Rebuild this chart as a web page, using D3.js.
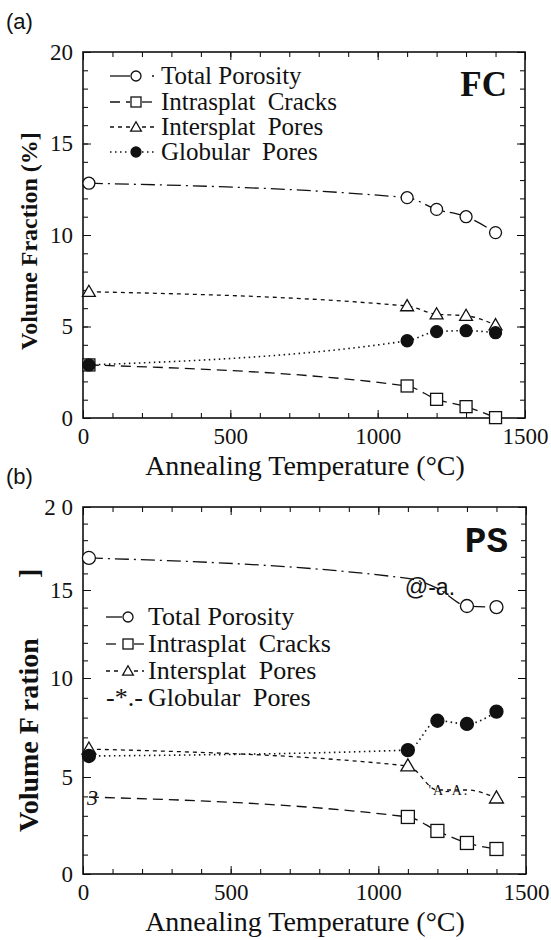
<!DOCTYPE html>
<html>
<head>
<meta charset="utf-8">
<script src="https://cdn.jsdelivr.net/npm/d3@7/dist/d3.min.js"></script>
<style>
  body { margin: 0; background: #fff; }
</style>
</head>
<body>
<div id="chart"></div>
<script>
// values
const temps = [20, 1100, 1200, 1300, 1400];
const seriesNames = ["Total Porosity", "Intrasplat Cracks", "Intersplat Pores", "Globular Pores"];

const fcTotal = [12.83, 12.04, 11.4, 11.0, 10.13];
const fcIntra = [2.9, 1.75, 1.02, 0.62, 0.02];
const fcInter = [6.9, 6.12, 5.67, 5.59, 5.08];
const fcGlob = [2.9, 4.22, 4.72, 4.77, 4.66];

const psTotal = [16.93, 15.7, 15.1, 14.09, 14.03];
const psIntra = [3.97, 2.94, 2.22, 1.6, 1.29];
const psInter = [6.41, 5.56, 4.33, 4.33, 3.92];
const psGlob = [6.06, 6.36, 7.84, 7.68, 8.3];

const xTicks = [0, 500, 1000, 1500];
const yTicks = [0, 5, 10, 15, 20];

const SERIF = "'Liberation Serif'";
const SANS = "'Liberation Sans'";
const MONO = "'Liberation Mono'";

// line / marker style per series (same order as seriesNames)
const styles = [
  { dash: "14,5,2,5", marker: "circle" },
  { dash: "10,6", marker: "square" },
  { dash: "4,4", marker: "triangle" },
  { dash: "1.5,3.5", marker: "dot" },
];

const svg = d3
  .select("#chart")
  .append("svg")
  .attr("width", 551)
  .attr("height", 940);

svg.append("rect").attr("width", 551).attr("height", 940).attr("fill", "#fff");

function drawMarker(g, type, cx, cy, s) {
  if (type === "circle" || type === "dot") {
    g.append("circle")
      .attr("cx", cx).attr("cy", cy).attr("r", s / 2)
      .attr("fill", type === "dot" ? "#111" : "#fff")
      .attr("stroke", "#111").attr("stroke-width", 1.3);
  } else if (type === "square") {
    g.append("rect")
      .attr("x", cx - s / 2).attr("y", cy - s / 2)
      .attr("width", s).attr("height", s)
      .attr("fill", "#fff").attr("stroke", "#111").attr("stroke-width", 1.3);
  } else {
    g.append("path")
      .attr("transform", `translate(${cx},${cy + 1})`)
      .attr("d", d3.symbol(d3.symbolTriangle, s * s * 0.5)())
      .attr("fill", "#fff").attr("stroke", "#111").attr("stroke-width", 1.3);
  }
}

function drawPanel(p) {
  const g = svg.append("g");
  const x = d3.scaleLinear().domain([0, 1500]).range([p.left, p.right]);
  // the scanned (b) axis is slightly stretched, so y can be piecewise
  const y = d3.scaleLinear().domain(yTicks).range(p.yRange);

  const noDomain = (sel) => sel.select(".domain").remove();
  const tickStyle = (sel) => {
    sel.attr("font-family", null).attr("font-size", null);
    sel.selectAll("text").style("font-family", SERIF).style("font-size", "23px").attr("fill", "#111");
    sel.selectAll("line").attr("stroke", "#111");
  };

  // minor ticks, all pointing inward
  g.append("g").attr("transform", `translate(0,${p.bottom})`)
    .call(d3.axisBottom(x).tickValues(d3.range(0, 1501, 100)).tickSize(-5).tickFormat(""))
    .call(noDomain);
  g.append("g").attr("transform", `translate(0,${p.top})`)
    .call(d3.axisTop(x).tickValues(d3.range(0, 1501, 100)).tickSize(-5).tickFormat(""))
    .call(noDomain);
  g.append("g").attr("transform", `translate(${p.left},0)`)
    .call(d3.axisLeft(y).tickValues(d3.range(0, 21, 1)).tickSize(-5).tickFormat(""))
    .call(noDomain);
  g.append("g").attr("transform", `translate(${p.right},0)`)
    .call(d3.axisRight(y).tickValues(d3.range(0, 21, 1)).tickSize(-5).tickFormat(""))
    .call(noDomain);

  // major ticks with labels
  g.append("g").attr("transform", `translate(0,${p.bottom})`)
    .call(d3.axisBottom(x).tickValues(xTicks).tickSize(-8).tickPadding(10).tickFormat((d) => d))
    .call(noDomain).call(tickStyle);
  g.append("g").attr("transform", `translate(0,${p.top})`)
    .call(d3.axisTop(x).tickValues(xTicks).tickSize(-8).tickFormat(""))
    .call(noDomain);
  g.append("g").attr("transform", `translate(${p.left},0)`)
    .call(d3.axisLeft(y).tickValues(yTicks).tickSize(-8).tickPadding(10).tickFormat(p.yFormat))
    .call(noDomain).call(tickStyle);
  g.append("g").attr("transform", `translate(${p.right},0)`)
    .call(d3.axisRight(y).tickValues(yTicks).tickSize(-8).tickFormat(""))
    .call(noDomain);

  // frame
  g.append("rect")
    .attr("x", p.left).attr("y", p.top)
    .attr("width", p.right - p.left).attr("height", p.bottom - p.top)
    .attr("fill", "none").attr("stroke", "#111").attr("stroke-width", 1.6);

  // lines
  const line = d3.line()
    .x((d, i) => x(temps[i]))
    .y((d) => y(d))
    .curve(d3.curveMonotoneX);

  p.series.forEach((vals, k) => {
    g.append("path")
      .datum(vals)
      .attr("fill", "none")
      .attr("stroke", "#111")
      .attr("stroke-width", k === 3 ? 1.6 : 1.3)
      .attr("stroke-dasharray", styles[k].dash)
      .attr("d", line);
  });

  // markers
  p.series.forEach((vals, k) => {
    vals.forEach((v, i) => {
      if (p.hidden[k].includes(i)) return;
      drawMarker(g, styles[k].marker, x(temps[i]), y(v), p.markerSize);
    });
  });

  // legend
  p.legendRows.forEach((base, k) => {
    const cy = base - 8;
    if (p.legendText[k]) {
      g.append("text").attr("x", p.legendX0).attr("y", base)
        .attr("fill", "#111")
        .style("font-family", SERIF).style("font-size", p.legendSize + "px")
        .text(p.legendText[k]);
    } else {
      g.append("line")
        .attr("x1", p.legendX0).attr("x2", p.legendMark - 6)
        .attr("y1", cy).attr("y2", cy)
        .attr("stroke", "#111").attr("stroke-width", k === 3 ? 1.6 : 1.3)
        .attr("stroke-dasharray", k === 0 ? null : styles[k].dash);
      g.append("line")
        .attr("x1", p.legendMark + 6).attr("x2", p.legendText0 - 4)
        .attr("y1", cy).attr("y2", cy)
        .attr("stroke", "#111").attr("stroke-width", k === 3 ? 1.6 : 1.3)
        .attr("stroke-dasharray", k === 0 ? "0,10,2,20" : styles[k].dash);
      drawMarker(g, styles[k].marker, p.legendMark, cy, p.legendMarkSize);
    }
    g.append("text").attr("x", p.legendText0).attr("y", base)
      .attr("fill", "#111")
      .style("font-family", SERIF).style("font-size", p.legendSize + "px")
      .style("word-spacing", k === 0 ? null : "6px")
      .text(seriesNames[k]);
  });

  // panel tag
  g.append("text")
    .attr("x", p.right - 18).attr("y", p.tagY)
    .attr("text-anchor", "end")
    .attr("fill", "#111")
    .style("font-weight", "bold")
    .style("font-size", p.tagSize + "px")
    .style("font-family", p.tagFont)
    .text(p.tag);

  // panel letter
  g.append("text")
    .attr("x", 6).attr("y", p.top - 23)
    .attr("fill", "#111")
    .style("font-size", "22px")
    .style("font-family", SANS)
    .text(p.letter);

  // x title
  g.append("text")
    .attr("x", 305).attr("y", p.bottom + 57)
    .attr("text-anchor", "middle")
    .attr("fill", "#111")
    .style("font-size", "28px")
    .style("font-family", SERIF)
    .text("Annealing Temperature (°C)");

  return { g, x, y };
}

// (a) FC
const a = drawPanel({
  left: 83, right: 525, top: 52, bottom: 418,
  yRange: [418, 326.5, 235, 143.5, 52],
  series: [fcTotal, fcIntra, fcInter, fcGlob],
  hidden: [[], [], [], []],
  markerSize: 12,
  yFormat: (d) => d,
  legendRows: [84, 110, 135, 160],
  legendX0: 110, legendMark: 136, legendText0: 161, legendMarkSize: 10, legendSize: 25,
  legendText: [null, null, null, null],
  tag: "FC", tagY: 96, tagSize: 35, tagFont: SERIF,
  letter: "(a)",
});

const yTitleA = a.g.append("text")
  .attr("transform", "translate(37,350) rotate(-90)")
  .attr("fill", "#111")
  .style("font-family", SERIF)
  .style("font-size", "24px")
  .style("font-weight", "bold")
  .text("Volume Fraction (%");
yTitleA.append("tspan").style("font-weight", 900).text("]");

// (b) PS
const b = drawPanel({
  left: 83, right: 526, top: 507, bottom: 874,
  yRange: [874, 777, 678, 590, 507],
  series: [psTotal, psIntra, psInter, psGlob],
  hidden: [[1, 2], [0], [2, 3], []],
  markerSize: 13,
  yFormat: (d) => (d === 20 ? "2 0" : d),
  legendRows: [625, 652, 679, 706],
  legendX0: 106, legendMark: 128, legendText0: 148, legendMarkSize: 10, legendSize: 26,
  legendText: [null, null, null, "-*.-"],
  tag: "PS", tagY: 552, tagSize: 36, tagFont: MONO,
  letter: "(b)",
});

// garbled scan marks that stand in for some markers
b.g.append("text")
  .attr("x", b.x(temps[1]) - 3).attr("y", b.y(psTotal[1]) + 17)
  .attr("fill", "#111")
  .style("font-size", "23px")
  .style("font-family", SANS)
  .text("@-a.");
b.g.append("text")
  .attr("x", b.x(temps[2]) - 9).attr("y", b.y(psInter[2]) + 5)
  .attr("fill", "#111")
  .style("font-size", "14px")
  .style("font-family", SERIF)
  .style("letter-spacing", "2px")
  .text("'A-A.");
b.g.append("text")
  .attr("x", b.x(temps[0]) - 2).attr("y", b.y(psIntra[0]) + 8)
  .attr("fill", "#111")
  .style("font-size", "22px")
  .style("font-family", SERIF)
  .style("font-style", "italic")
  .text("3");

b.g.append("text")
  .attr("transform", "translate(38,832) rotate(-90)")
  .attr("fill", "#111")
  .style("font-family", SERIF)
  .style("font-size", "28px")
  .style("font-weight", "bold")
  .text("Volume F ration");
b.g.append("text")
  .attr("transform", "translate(38,578) rotate(-90)")
  .attr("fill", "#111")
  .style("font-family", SERIF)
  .style("font-size", "28px")
  .style("font-weight", 900)
  .text("]");
</script>
</body>
</html>
